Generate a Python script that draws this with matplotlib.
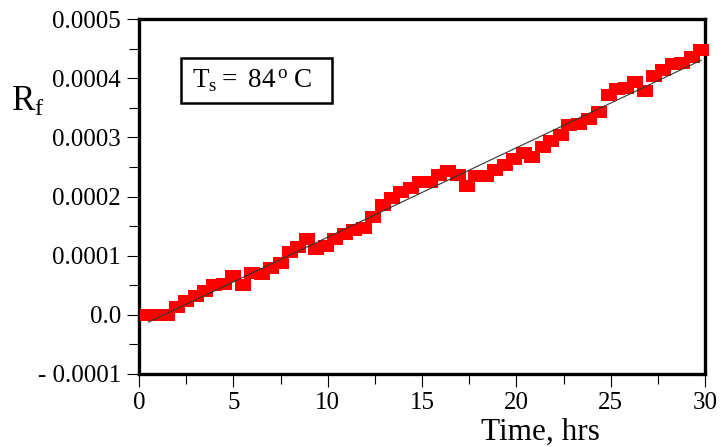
import numpy as np
import matplotlib.pyplot as plt
from matplotlib.ticker import MultipleLocator, FuncFormatter
from matplotlib.patches import Rectangle

# data
time_hrs = [0.5, 1.0, 1.5, 2.0, 2.5, 3.0, 3.5, 4.0, 4.5, 5.0,
            5.5, 6.0, 6.5, 7.0, 7.5, 8.0, 8.45, 8.9, 9.4, 9.9,
            10.4, 10.9, 11.4, 11.9, 12.4, 12.95, 13.4, 13.9, 14.4, 14.9,
            15.4, 15.9, 16.4, 16.9, 17.4, 17.85, 18.4, 18.85, 19.4, 19.9,
            20.4, 20.85, 21.4, 21.85, 22.35, 22.8, 23.3, 23.85, 24.4, 24.9,
            25.35, 25.8, 26.3, 26.8, 27.3, 27.8, 28.3, 28.8, 29.3, 29.8]
rf_e4 = [0.0, 0.0, 0.0, 0.14, 0.23, 0.32, 0.41, 0.50, 0.52, 0.66,
         0.50, 0.71, 0.69, 0.80, 0.88, 1.07, 1.15, 1.28, 1.11, 1.16,
         1.29, 1.36, 1.44, 1.47, 1.66, 1.86, 1.97, 2.07, 2.15, 2.24,
         2.25, 2.36, 2.43, 2.36, 2.18, 2.34, 2.35, 2.44, 2.54, 2.64,
         2.74, 2.66, 2.83, 2.93, 3.04, 3.21, 3.22, 3.31, 3.42, 3.72,
         3.82, 3.83, 3.93, 3.78, 4.03, 4.14, 4.24, 4.25, 4.36, 4.47]
x_ticks = [0, 5, 10, 15, 20, 25, 30]
y_ticks = [-0.0001, 0.0, 0.0001, 0.0002, 0.0003, 0.0004, 0.0005]

t = np.array(time_hrs)
rf = np.array(rf_e4) * 1e-4

plt.rcParams['font.family'] = ['Liberation Serif', 'DejaVu Serif']
plt.rcParams['mathtext.fontset'] = 'custom'
plt.rcParams['mathtext.rm'] = 'Liberation Serif'
plt.rcParams['mathtext.it'] = 'Liberation Serif'

fig = plt.figure(figsize=(7.24, 4.47), dpi=100)
ax = fig.add_axes([139/724, 1 - 374/447, 566/724, 355/447])

# rectangle marker, a little wider than tall
box = [(-1.25, -1), (1.25, -1), (1.25, 1), (-1.25, 1), (-1.25, -1)]
ax.plot(t, rf, linestyle='none', marker=box, markersize=11.5,
        color='#ff0000', markeredgewidth=0, zorder=3, clip_on=False)

# linear fit
k, b = np.polyfit(t, rf, 1)
tf = np.array([t[0], t[-1]])
ax.plot(tf, k*tf + b, color='#333333', lw=0.8, zorder=4)

ax.set_xlim(0, 30)
ax.set_ylim(-0.0001, 0.0005)
ax.set_xticks(x_ticks)
ax.set_yticks(y_ticks)
ax.xaxis.set_minor_locator(MultipleLocator(2.5))
ax.yaxis.set_minor_locator(MultipleLocator(0.00005))

def yfmt(v, pos):
    if abs(v) < 1e-12:
        return '0.0'
    if v < 0:
        return '- %.4f' % abs(v)
    return '%.4f' % v

ax.yaxis.set_major_formatter(FuncFormatter(yfmt))
ax.tick_params(which='both', direction='out', top=False, right=False,
               labelsize=18, width=0.8, color='black')
ax.tick_params(which='major', length=9, pad=4)
ax.tick_params(which='minor', length=7)
for s in ax.spines.values():
    s.set_linewidth(2.4)

# label box
ax.add_patch(Rectangle((0.0742, 0.763), 0.2668, 0.127, transform=ax.transAxes,
                       fc='white', ec='black', lw=1.8, zorder=5))
ax.text(0.094, 0.826, r'$\mathrm{T_s =\ 84^{\,o}\;C}$', transform=ax.transAxes,
        fontsize=19.5, ha='left', va='center', zorder=6)

fig.text(11/724, 1 - 102/447, r'$\mathrm{R_f}$', fontsize=25, ha='left', va='center')
fig.text(540/724, 1 - 432/447, 'Time, hrs', fontsize=22.5, ha='center', va='center')

fig.savefig('out.png', dpi=100)
